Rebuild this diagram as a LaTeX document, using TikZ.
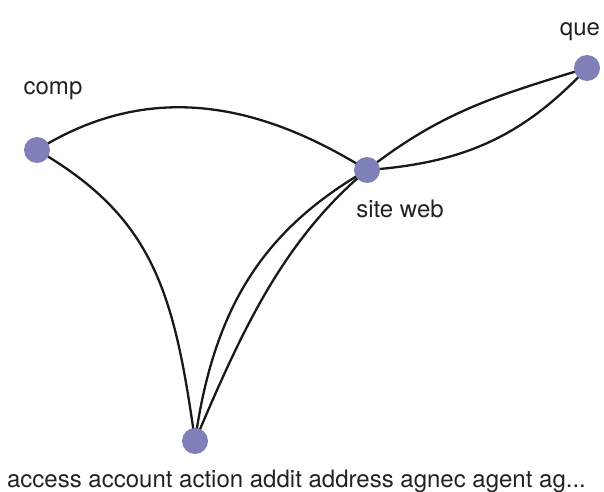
\documentclass[tikz,border=0pt]{standalone}
\usepackage{fontspec}
\setmainfont{TeX Gyre Heros}
\definecolor{nodefill}{HTML}{8080B8}
\definecolor{labelgray}{HTML}{222222}
\begin{document}
\begin{tikzpicture}[x=1pt,y=1pt,
  vert/.style={circle,fill=nodefill,draw=none,minimum size=26pt,inner sep=0pt},
  lbl/.style={anchor=base,font=\fontsize{24}{28}\selectfont,text=labelgray,inner sep=0pt},
  link/.style={draw=black!90,line width=2.3pt}]
\useasboundingbox (0,0) rectangle (604,491);
\coordinate (pcomp) at (37,341);
\coordinate (psite) at (367,321);
\coordinate (pque) at (587,423);
\coordinate (pbot) at (195,50);
% edges
\draw[link] (pcomp) to[out=32,in=148,out distance=130pt,in distance=130pt] (psite);
\draw[link] (pcomp) to[out=-30,in=98,out distance=135pt,in distance=150pt] (pbot);
\draw[link] (psite) to[out=-150,in=82,out distance=120pt,in distance=135pt] (pbot);
\draw[link] (psite) to[out=-140,in=67,out distance=110pt,in distance=120pt] (pbot);
\draw[link] (psite) to[out=38,in=197,out distance=95pt,in distance=95pt] (pque);
\draw[link] (psite) to[out=4,in=227,out distance=95pt,in distance=95pt] (pque);
% nodes
\node[vert] (comp) at (pcomp) {};
\node[vert] (site) at (psite) {};
\node[vert] (que) at (pque) {};
\node[vert] (bot) at (pbot) {};
% labels
\node[lbl] (lcomp) at (53,396) {comp};
\node[lbl] (lque) at (580,455) {que};
\node[lbl] (lsite) at (400,274) {site web};
\node[lbl] (lbot) at (296.5,4) {access account action addit address agnec agent ag...};
\end{tikzpicture}
\end{document}
